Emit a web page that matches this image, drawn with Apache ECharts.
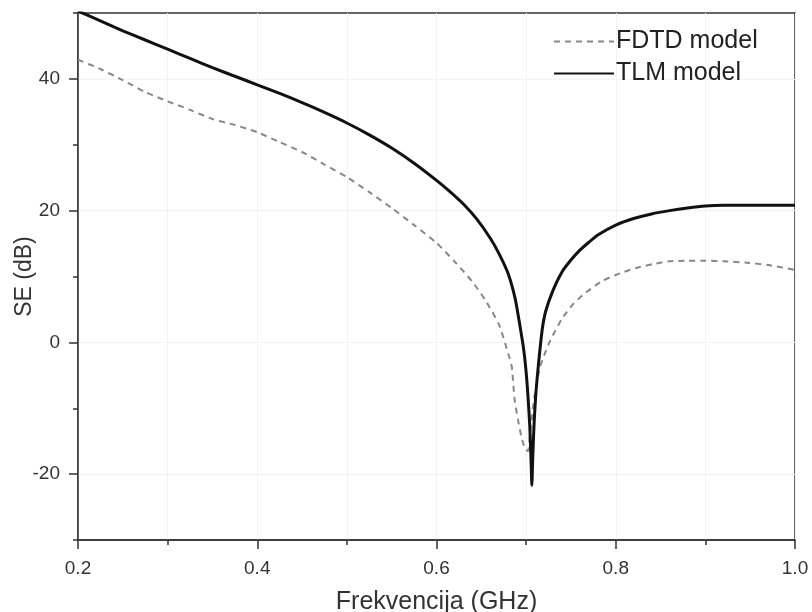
<!DOCTYPE html>
<html>
<head>
<meta charset="utf-8">
<script src="https://cdn.jsdelivr.net/npm/echarts@6/dist/echarts.min.js"></script>
<style>html,body{margin:0;padding:0;background:#fff}#c{width:812px;height:612px}</style>
</head>
<body>
<div id="c"></div>
<script>
const seriesNames = ['FDTD model', 'TLM model'];
const xTickLabels = ['0.2', '0.4', '0.6', '0.8', '1.0'];
const yTickLabels = [-20, 0, 20, 40];

const fdtdFreq = [0.200,0.225,0.250,0.275,0.300,0.325,0.350,0.375,0.400,0.425,0.450,0.475,0.500,0.525,0.550,0.575,0.600,0.620,0.640,0.655,0.670,0.680,0.684,0.687,0.691,0.695,0.699,0.702,0.705,0.709,0.715,0.720,0.727,0.740,0.753,0.767,0.786,0.805,0.823,0.842,0.860,0.880,0.900,0.920,0.946,0.972,1.000];
const fdtdSE   = [42.9,41.5,39.8,38.0,36.6,35.3,33.9,33.0,31.9,30.4,28.9,27.0,25.1,22.8,20.4,17.8,15.1,12.3,9.2,6.3,2.6,-1.7,-3.7,-8.5,-11.8,-14.5,-16.2,-16.5,-13.0,-8.5,-4.0,-2.0,0.3,3.6,5.9,7.6,9.4,10.5,11.3,11.9,12.3,12.4,12.4,12.3,12.1,11.7,11.0];

const tlmFreq = [0.200,0.225,0.250,0.275,0.300,0.325,0.350,0.375,0.400,0.425,0.450,0.475,0.500,0.525,0.550,0.575,0.600,0.615,0.630,0.645,0.660,0.670,0.680,0.688,0.693,0.697,0.700,0.702,0.704,0.7055,0.7064,0.7075,0.709,0.711,0.714,0.718,0.722,0.730,0.740,0.750,0.760,0.770,0.780,0.800,0.820,0.840,0.860,0.880,0.900,0.920,0.950,0.980,1.000];
const tlmSE   = [50.3,48.8,47.3,45.9,44.5,43.1,41.7,40.4,39.1,37.8,36.4,34.9,33.3,31.5,29.5,27.2,24.6,22.9,21.0,18.7,15.8,13.4,10.4,6.5,2.6,-0.8,-4.5,-8.0,-12.5,-18.0,-21.7,-17.0,-12.0,-7.5,-3.0,2.0,4.8,7.9,10.7,12.5,14.0,15.2,16.3,17.8,18.8,19.5,20.0,20.4,20.7,20.8,20.8,20.8,20.8];

const FONT = "'Liberation Sans', Arial, sans-serif";
const chart = echarts.init(document.getElementById('c'), null, {renderer: 'canvas'});

const pair = (xs, ys) => xs.map((x, i) => [x, ys[i]]);
const hidden = 'rgba(0,0,0,0)';

chart.setOption({
  backgroundColor: '#fff',
  animation: false,
  grid: {left: 78, right: 17, top: 13, bottom: 72, show: true, borderColor: '#333', borderWidth: 1.5, outerBoundsMode: 'none'},
  legend: {
    orient: 'vertical', left: 548, top: 24, itemWidth: 60, itemHeight: 14, itemGap: 7,
    textStyle: {fontFamily: FONT, fontSize: 25, color: '#222', padding: [0,0,0,-3]},
    itemStyle: {color: hidden, borderColor: hidden, borderWidth: 0},
    data: seriesNames
  },
  xAxis: {
    type: 'value', min: 0.2, max: 1.0, interval: 0.2,
    name: 'Frekvencija (GHz)', nameLocation: 'middle', nameGap: 50, nameMoveOverlap: false,
    nameTextStyle: {fontFamily: FONT, fontSize: 25, color: '#333'},
    axisLine: {show: true, onZero: false, lineStyle: {color: '#333', width: 1.5}},
    axisTick: {show: true, inside: false, length: 9, lineStyle: {color: '#333', width: 1.5}},
    minorTick: {show: true, splitNumber: 2, length: 5, lineStyle: {color: '#333', width: 1.5}},
    axisLabel: {fontFamily: FONT, fontSize: 19, color: '#333', margin: 19,
      formatter: v => { const s = v.toFixed(1); return xTickLabels.includes(s) ? s : ''; }},
    splitLine: {show: true, lineStyle: {color: '#f3f3f3', width: 1}},
    minorSplitLine: {show: true, lineStyle: {color: '#f3f3f3', width: 1}}
  },
  yAxis: [{
    type: 'value', min: -30, max: 50, interval: 10,
    name: 'SE (dB)', nameLocation: 'middle', nameGap: 42, nameMoveOverlap: false,
    nameTextStyle: {fontFamily: FONT, fontSize: 23, color: '#333'},
    axisLine: {show: true, onZero: false, lineStyle: {color: '#333', width: 1.5}},
    axisTick: {show: true, inside: false, length: 9, customValues: yTickLabels, lineStyle: {color: '#333', width: 1.5}},
    axisLabel: {fontFamily: FONT, fontSize: 19, color: '#333', margin: 18, customValues: yTickLabels},
    splitLine: {show: true, lineStyle: {color: '#f3f3f3', width: 1}}
  }, {
    type: 'value', min: -30, max: 50, interval: 10, position: 'left',
    axisLine: {show: false, onZero: false},
    axisTick: {show: true, inside: false, length: 5, lineStyle: {color: '#333', width: 1.5}},
    axisLabel: {show: false},
    splitLine: {show: false}
  }],
  series: [{
    name: seriesNames[0], type: 'line', data: pair(fdtdFreq, fdtdSE),
    showSymbol: false, symbol: 'none', smooth: 0.2, clip: true,
    lineStyle: {color: '#888', width: 2, type: [6, 5]},
    itemStyle: {color: '#888'}
  }, {
    name: seriesNames[1], type: 'line', data: pair(tlmFreq, tlmSE),
    showSymbol: false, symbol: 'none', smooth: 0.2, clip: true,
    lineStyle: {color: '#111', width: 3},
    itemStyle: {color: '#111'}
  }]
});
</script>
</body>
</html>
